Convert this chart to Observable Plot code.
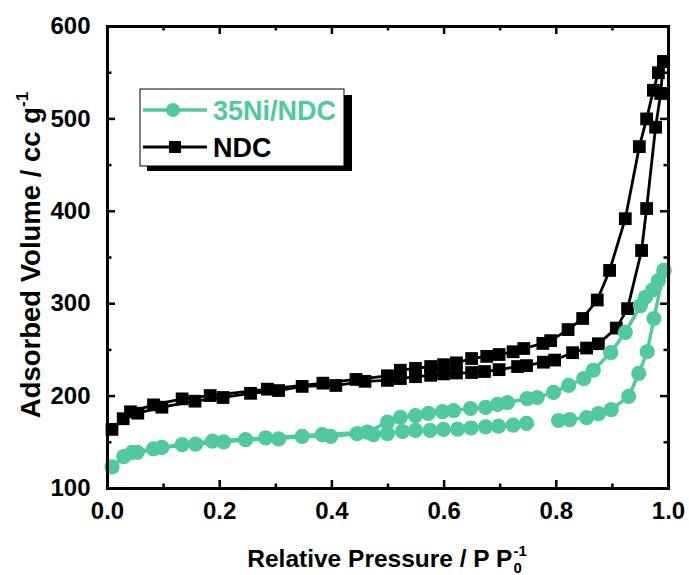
<!DOCTYPE html>
<html>
<head>
<meta charset="utf-8">
<script src="https://cdn.jsdelivr.net/npm/d3@7"></script>
<script src="https://cdn.jsdelivr.net/npm/@observablehq/plot@0.6"></script>
<style>
  html, body { margin: 0; padding: 0; background: #ffffff; }
  svg { display: block; }
</style>
</head>
<body>
<div id="chart"></div>
<script>
// ---------- data ----------
const seriesNames = ["35Ni/NDC", "NDC"];

// NDC – adsorption branch
const ndcAdsX = [0.008, 0.028, 0.054, 0.097, 0.156, 0.206, 0.255, 0.305, 0.347, 0.407, 0.459, 0.499, 0.522, 0.549, 0.576, 0.599, 0.622, 0.649, 0.672, 0.698, 0.731, 0.747, 0.777, 0.797, 0.829, 0.854, 0.875, 0.907, 0.927, 0.952, 0.961, 0.977, 0.986, 0.991];
const ndcAdsY = [164, 175.5, 181.5, 188, 194.5, 198.5, 203, 206, 210.5, 211.5, 216, 217, 219, 221, 222.5, 224, 225, 225.5, 226.6, 228.6, 232, 233, 236.7, 239, 247, 252, 256.7, 273.6, 294.7, 357.6, 403, 491, 527.5, 562];
// NDC – desorption branch
const ndcDesX = [0.041, 0.082, 0.133, 0.183, 0.285, 0.384, 0.443, 0.499, 0.522, 0.549, 0.576, 0.599, 0.622, 0.649, 0.676, 0.698, 0.723, 0.742, 0.776, 0.790, 0.821, 0.847, 0.873, 0.895, 0.923, 0.948, 0.961, 0.973, 0.982, 0.991];
const ndcDesY = [183, 190.5, 197, 200.6, 207.5, 214, 218, 222, 228, 230, 232, 234, 236, 240.7, 243, 245, 248, 251.5, 257, 260, 272, 284, 304, 336, 392, 470, 500, 531, 550, 562];

// 35Ni/NDC – adsorption branch (null = gap in the curve)
const niAdsX = [0.008, 0.029, 0.053, 0.097, 0.157, 0.207, 0.246, 0.305, 0.347, 0.398, 0.445, 0.474, 0.499, 0.526, 0.549, 0.575, 0.599, 0.624, 0.648, 0.674, 0.697, 0.723, 0.747, 0.775, 0.804, 0.824, 0.854, 0.875, 0.898, 0.929, 0.947, 0.962, 0.974, 0.992];
const niAdsY = [123.5, 134.4, 139, 144.4, 148, 150.5, 152.8, 153.7, 156.5, 156.5, 159.3, 158.4, 159.5, 161.7, 162.8, 162.8, 163.9, 164.2, 165.5, 166.7, 167.5, 168.6, 170.4, null, 173.6, 174.6, 176.8, 181, 185.4, 199.6, 224.5, 248, 284, 336];
// 35Ni/NDC – desorption branch
const niDesX = [0.044, 0.082, 0.133, 0.187, 0.282, 0.383, 0.463, 0.499, 0.522, 0.549, 0.572, 0.597, 0.617, 0.647, 0.674, 0.695, 0.713, 0.748, 0.766, 0.795, 0.822, 0.849, 0.866, 0.897, 0.923, 0.950, 0.959, 0.972, 0.982, 0.992];
const niDesY = [139, 143, 147.6, 151.2, 154.8, 158.4, 161, 171.8, 177, 179, 181.2, 183.3, 184.4, 186.6, 187.7, 191, 193, 197.4, 198.5, 204, 211.5, 219, 228, 247, 269, 298, 307, 315, 325, 336];

// tick values
const xMajor = [0, 0.2, 0.4, 0.6, 0.8, 1.0];
const xMinor = [0.1, 0.3, 0.5, 0.7, 0.9];
const yMajor = [100, 200, 300, 400, 500, 600];
const yMinor = [150, 250, 350, 450, 550];

// ---------- layout / style ----------
const W = 689, H = 575;
const mL = 107, mR = 21, mT = 26, mB = 87;
const innerW = W - mL - mR, innerH = H - mT - mB;
const FONT = '"Liberation Sans", Arial, Helvetica, sans-serif';
const TEAL = "#50c8a0";
const MAJ = 8, MIN = 4.5, TW = 2.5;

const rows = (xs, ys, branch) => xs.map((x, i) => ({x, y: ys[i], branch}));
const ndc = [...rows(ndcAdsX, ndcAdsY, "ads"), ...rows(ndcDesX, ndcDesY, "des")];
const ni = [...rows(niAdsX, niAdsY, "ads"), ...rows(niDesX, niDesY, "des")];

const plot = Plot.plot({
  width: W, height: H,
  marginLeft: mL, marginRight: mR, marginTop: mT, marginBottom: mB,
  style: {fontFamily: FONT, fontWeight: "bold", background: "#ffffff", color: "#000", overflow: "visible"},
  x: {domain: [0, 1]},
  y: {domain: [100, 600]},
  marks: [
    Plot.axisX({ticks: xMajor, tickSize: 0, tickPadding: 13, tickFormat: ".1f", fontSize: 24, label: null}),
    Plot.axisY({ticks: yMajor, tickSize: 0, tickPadding: 17, tickFormat: "d", fontSize: 24, label: null}),
    // inward ticks: bottom, top, left, right
    Plot.ruleX(xMajor, {x: d => d, insetTop: innerH - MAJ, strokeWidth: TW}),
    Plot.ruleX(xMinor, {x: d => d, insetTop: innerH - MIN, strokeWidth: TW}),
    Plot.ruleX(xMajor, {x: d => d, insetBottom: innerH - MAJ, strokeWidth: TW}),
    Plot.ruleX(xMinor, {x: d => d, insetBottom: innerH - MIN, strokeWidth: TW}),
    Plot.ruleY(yMajor, {y: d => d, insetRight: innerW - MAJ, strokeWidth: TW}),
    Plot.ruleY(yMinor, {y: d => d, insetRight: innerW - MIN, strokeWidth: TW}),
    Plot.ruleY(yMajor, {y: d => d, insetLeft: innerW - MAJ, strokeWidth: TW}),
    Plot.ruleY(yMinor, {y: d => d, insetLeft: innerW - MIN, strokeWidth: TW}),
    // NDC
    Plot.line(ndc, {x: "x", y: "y", z: "branch", stroke: "#000", strokeWidth: 2.8}),
    Plot.dot(ndc, {x: "x", y: "y", symbol: "square", r: 7.2, fill: "#000", stroke: "none"}),
    // 35Ni/NDC
    Plot.line(ni, {x: "x", y: "y", z: "branch", stroke: TEAL, strokeWidth: 3.4}),
    Plot.dot(ni, {x: "x", y: "y", r: 7.6, fill: TEAL, stroke: "none"}),
    Plot.frame({stroke: "#000", strokeWidth: 3})
  ]
});

document.getElementById("chart").appendChild(plot);

// ---------- axis titles ----------
const svg = d3.select(plot);
const txt = (sel) => sel.attr("font-family", FONT).attr("font-weight", "bold").attr("fill", "#000");

// y title
const yt = txt(svg.append("text"))
  .attr("transform", "translate(40,255) rotate(-90)")
  .attr("text-anchor", "middle")
  .attr("font-size", 27.5);
yt.append("tspan").text("Adsorbed Volume / cc g");
yt.append("tspan").attr("font-size", 17).attr("dy", -12).text("-1");

// x title with stacked sub/superscript
const xtY = 567, xtC = 387;
const xt = txt(svg.append("text")).attr("text-anchor", "start")
  .attr("font-size", 24.5).attr("y", xtY).text("Relative Pressure / P P");
const w = xt.node().getComputedTextLength();
const sub = txt(svg.append("text")).attr("text-anchor", "start").attr("font-size", 15)
  .attr("y", xtY + 6).text("0");
const sup = txt(svg.append("text")).attr("text-anchor", "start").attr("font-size", 15)
  .attr("y", xtY - 11).text("-1");
const sw = Math.max(sub.node().getComputedTextLength(), sup.node().getComputedTextLength());
const x0 = xtC - (w + 1 + sw) / 2;
xt.attr("x", x0);
sub.attr("x", x0 + w + 1);
sup.attr("x", x0 + w + 1);

// ---------- legend ----------
const lg = svg.append("g");
lg.append("rect").attr("x", 147).attr("y", 95).attr("width", 205).attr("height", 76).attr("fill", "#000");
lg.append("rect").attr("x", 140).attr("y", 89).attr("width", 204).attr("height", 77)
  .attr("fill", "#fff").attr("stroke", "#000").attr("stroke-width", 1);
lg.append("line").attr("x1", 143).attr("x2", 207).attr("y1", 110).attr("y2", 110)
  .attr("stroke", TEAL).attr("stroke-width", 3.4);
lg.append("circle").attr("cx", 173).attr("cy", 110).attr("r", 7).attr("fill", TEAL);
txt(lg.append("text")).attr("text-anchor", "start").attr("x", 213).attr("y", 120)
  .attr("font-size", 27).attr("fill", TEAL).text(seriesNames[0]);
lg.append("line").attr("x1", 143).attr("x2", 207).attr("y1", 147).attr("y2", 147)
  .attr("stroke", "#000").attr("stroke-width", 2.8);
lg.append("rect").attr("x", 169).attr("y", 141).attr("width", 12).attr("height", 12).attr("fill", "#000");
txt(lg.append("text")).attr("text-anchor", "start").attr("x", 213).attr("y", 157)
  .attr("font-size", 27).text(seriesNames[1]);
</script>
</body>
</html>
